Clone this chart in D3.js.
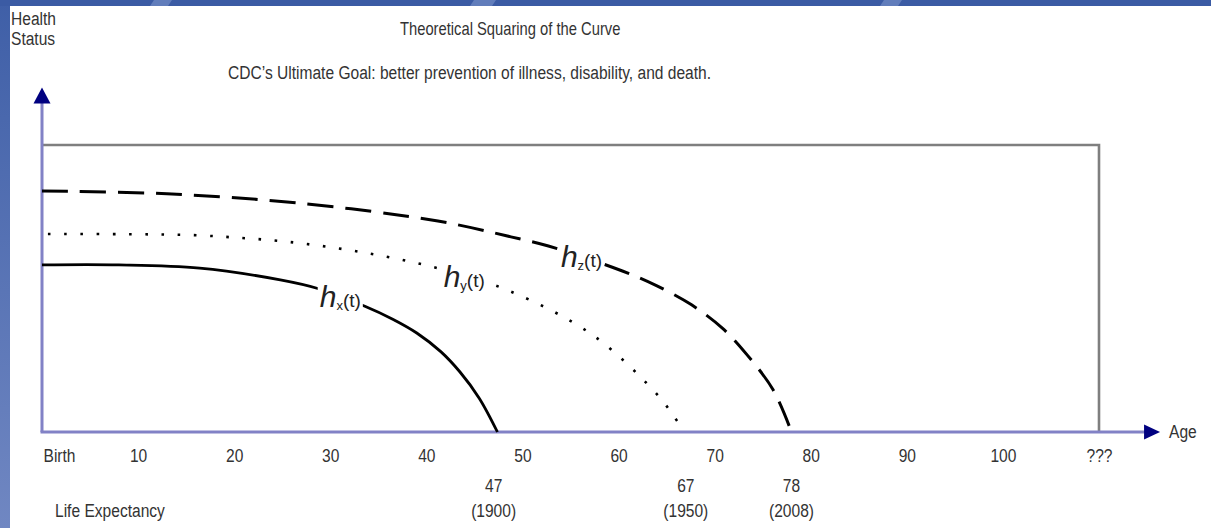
<!DOCTYPE html>
<html><head><meta charset="utf-8">
<script src="https://cdn.jsdelivr.net/npm/d3@7"></script>
<style>
body{margin:0;background:#fff;overflow:hidden}
svg{display:block}
text{font-family:"Liberation Sans",Arial,Helvetica,sans-serif;fill:#333}
</style>
</head><body>
<svg id="c" width="1211" height="528"></svg>
<script>
// ---- data ----
const ageTicks = [0,10,20,30,40,50,60,70,80,90,100,110];
const ageTickLabels = ["Birth","10","20","30","40","50","60","70","80","90","100","???"];
const lifeExpAges = [47,67,78];
const lifeExpYears = ["(1900)","(1950)","(2008)"];

// h_x(t) solid curve (age, health status 0..100)
const hxAge    = [0, 8, 16.4, 24.8, 28.7, 33.6, 36.5, 39, 41.5, 43.5, 45.5, 47.4];
const hxHealth = [58.2, 58.2, 57.1, 53, 50, 43.8, 39.3, 34.5, 28, 20.9, 11.8, 0];
// h_y(t) dotted curve
const hyAge    = [0, 10, 15.7, 20.8, 25.8, 33, 40.7, 48.4, 57.3, 63.6, 65.6, 66.8];
const hyHealth = [69, 68.9, 68.6, 67.6, 66.2, 62.8, 57.5, 49.5, 33.8, 14.6, 6.3, 0];
// h_z(t) dashed curve
const hzAge    = [0, 13, 26.6, 41.2, 48.8, 52.7, 60.4, 64, 67.6, 70.8, 73.4, 76.1, 78];
const hzHealth = [84, 83, 79.8, 73.5, 68, 64.8, 56.1, 50.9, 44.3, 36.2, 26.8, 14.6, 0];

const curveNames = ["x","y","z"];
const curveLabelAges = [28.9, 41.8, 54];

// ---- drawing ----
const W = 1211, H = 528;
const FS = 19, SX = 0.82;
const svg = d3.select("#c");
const x = d3.scaleLinear().domain([0,110]).range([42,1099]);
const y = d3.scaleLinear().domain([0,100]).range([432,145]);
const xAxisEnd = 115, yAxisEnd = 120;

function label(parent, tx, ty, str, opts={}){
  return parent.append("text")
    .attr("transform",`translate(${tx},${ty}) scale(${SX},1)`)
    .attr("font-size", opts.size || FS)
    .attr("text-anchor", opts.anchor || "start")
    .text(str);
}

// slide border
const defs = svg.append("defs");
const g1 = defs.append("linearGradient").attr("id","lg").attr("x1",0).attr("y1",0).attr("x2",0).attr("y2",1);
g1.append("stop").attr("offset","0").attr("stop-color","#3f5fa7");
g1.append("stop").attr("offset","1").attr("stop-color","#7087c2");
svg.append("rect").attr("x",0).attr("y",0).attr("width",10).attr("height",H).attr("fill","url(#lg)");
svg.append("rect").attr("x",0).attr("y",0).attr("width",W).attr("height",6).attr("fill","#3b5ba4");
[[150,18],[470,22],[880,18]].forEach(([sx,w])=>{
  svg.append("path").attr("d",`M${sx},6 L${sx+w},6 L${sx+w+4},0 L${sx+4},0 Z`).attr("fill","#6c86c0").attr("opacity",0.8);
});

// box (ideal squared curve)
svg.append("path")
  .attr("d", d3.line()([[x(0),y(100)],[x(110),y(100)],[x(110),y(0)]]))
  .attr("fill","none").attr("stroke","#7f7f7f").attr("stroke-width",2.6);

// axes lines
svg.append("line").attr("x1",x(0)).attr("y1",y(0)).attr("x2",x(0)).attr("y2",y(yAxisEnd)+14)
  .attr("stroke","#8282c6").attr("stroke-width",3);
svg.append("line").attr("x1",x(0)-1.5).attr("y1",y(0)).attr("x2",x(xAxisEnd)-2).attr("y2",y(0))
  .attr("stroke","#8282c6").attr("stroke-width",3);
// arrow heads
svg.append("path").attr("d",`M${x(0)},${y(yAxisEnd)} L${x(0)+8.5},${y(yAxisEnd)+16} L${x(0)-8.5},${y(yAxisEnd)+16} Z`).attr("fill","#000080");
svg.append("path").attr("d",`M${x(xAxisEnd)+13},${y(0)} L${x(xAxisEnd)-3},${y(0)-7.5} L${x(xAxisEnd)-3},${y(0)+7.5} Z`).attr("fill","#000080");

// x axis labels via d3 axis
const ax = svg.append("g").attr("transform",`translate(0,${y(0)})`)
  .call(d3.axisBottom(x).tickValues(ageTicks).tickFormat((d,i)=>ageTickLabels[i]).tickSize(0));
ax.select(".domain").remove();
ax.selectAll("text").attr("y",0).attr("dy",0).attr("x",0)
  .attr("transform",(d,i)=>`translate(${i===0?1:0},30) scale(${SX},1)`)
  .attr("font-size",FS).attr("fill","#333")
  .attr("font-family",'"Liberation Sans",Arial,sans-serif')
  .attr("text-anchor",(d,i)=> i===0 ? "start" : "middle");

label(svg, x(xAxisEnd)+22, y(0)+6, "Age");

// y axis label
label(svg, 11, 25, "Health");
label(svg, 11, 45, "Status");

// titles
label(svg, 400, 35, "Theoretical Squaring of the Curve", {size:18});
label(svg, 228, 79, "CDC\u2019s Ultimate Goal: better prevention of illness, disability, and death.");

// life expectancy
label(svg, 55, 517, "Life Expectancy");
const le = svg.append("g");
lifeExpAges.forEach((a,i)=>{
  label(le, x(a), 492, String(a), {anchor:"middle"});
  label(le, x(a), 517, lifeExpYears[i], {anchor:"middle"});
});

// curves
const line = d3.line().x(d=>x(d[0])).y(d=>y(d[1])).curve(d3.curveCatmullRom.alpha(0.5));
const series = [
  {pts: hxAge.map((a,i)=>[a,hxHealth[i]]), dash:null, w:2.8},
  {pts: hyAge.map((a,i)=>[a,hyHealth[i]]), dash:"2.6,13.6", w:2.6, off:-6},
  {pts: hzAge.map((a,i)=>[a,hzHealth[i]]), dash:"26,12", w:3}
];
series.forEach(s=>{
  const p = svg.append("path").attr("d",line(s.pts)).attr("fill","none")
    .attr("stroke","#000").attr("stroke-width",s.w);
  if (s.dash) p.attr("stroke-dasharray",s.dash);
  if (s.off) p.attr("stroke-dashoffset",s.off);
});

// curve labels h_x(t), h_y(t), h_z(t)
function interp(ages, hs, a){
  for (let i=1;i<ages.length;i++){ if (a<=ages[i]) { const t=(a-ages[i-1])/(ages[i]-ages[i-1]); return hs[i-1]+t*(hs[i]-hs[i-1]); } }
  return hs[hs.length-1];
}
const curveData = [[hxAge,hxHealth],[hyAge,hyHealth],[hzAge,hzHealth]];
curveNames.forEach((n,i)=>{
  const a0 = curveLabelAges[i];
  const yMid = y(interp(curveData[i][0], curveData[i][1], a0+2.2));
  const g = svg.append("g");
  const t = g.append("text").attr("x",x(a0)).attr("y",yMid+10).style("fill","#222");
  t.append("tspan").attr("font-size",30).attr("font-style","italic").text("h");
  t.append("tspan").attr("font-size",13).attr("dy",3).text(n);
  t.append("tspan").attr("font-size",19).attr("dy",-3).text("(t)");
  const bb = t.node().getBBox();
  g.insert("rect","text").attr("x",bb.x-2).attr("y",bb.y+5).attr("width",bb.width+4).attr("height",bb.height-10).attr("fill","#fff");
});
</script>
</body></html>
